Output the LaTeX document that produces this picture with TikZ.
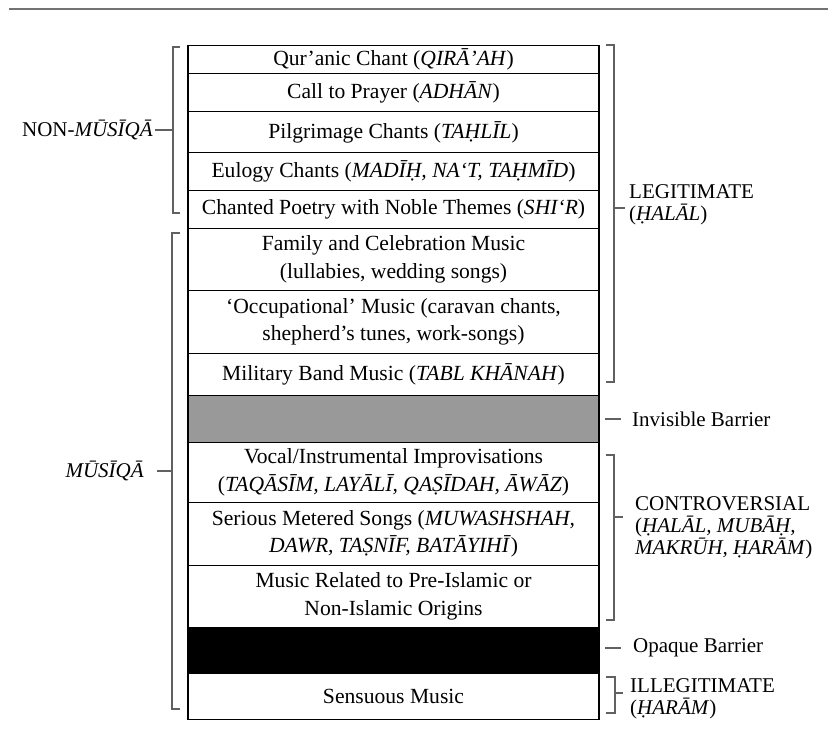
\documentclass[tikz,border=0pt]{standalone}
\usepackage{fontspec}
\setmainfont{Liberation Serif}
\begin{document}
\begin{tikzpicture}[x=1pt,y=-1pt,
  rowbox/.style={draw=black,line width=1.1pt,minimum width=411pt,inner sep=0pt,
    align=center,font=\fontsize{21.6}{27.5}\selectfont,anchor=north},
  lbl/.style={inner sep=0pt,align=left,font=\fontsize{21}{22}\selectfont},
  brk/.style={draw=black!62,line width=1.8pt},
  rule/.style={draw=black!55,line width=2.6pt}]
\useasboundingbox (0,0) rectangle (828,731);
\fill[white] (0,0) rectangle (828,731);
\draw[rule] (9,9) -- (828,9);
% rows
\node[rowbox,minimum height=28pt] (r1) at (393.5,45) {Qur’anic Chant (\textit{QIRĀ’AH})};
\node[rowbox,minimum height=38pt] (r2) at (393.5,73) {Call to Prayer (\textit{ADHĀN})};
\node[rowbox,minimum height=41pt] (r3) at (393.5,111) {Pilgrimage Chants (\textit{TAḤLĪL})};
\node[rowbox,minimum height=38pt] (r4) at (393.5,152) {Eulogy Chants (\textit{MADĪḤ, NA‘T, TAḤMĪD})};
\node[rowbox,minimum height=38pt] (r5) at (393.5,190) {Chanted Poetry with Noble Themes (\textit{SHI‘R})};
\node[rowbox,minimum height=62pt] (r6) at (393.5,228) {Family and Celebration Music\\(lullabies, wedding songs)};
\node[rowbox,minimum height=63pt] (r7) at (393.5,290) {‘Occupational’ Music (caravan chants,\\shepherd’s tunes, work-songs)};
\node[rowbox,minimum height=42pt] (r8) at (393.5,353) {Military Band Music (\textit{TABL KHĀNAH})};
\node[rowbox,minimum height=47pt,fill=black!40] (r9) at (393.5,395) {};
\node[rowbox,minimum height=60pt] (r10) at (393.5,442) {Vocal/Instrumental Improvisations\\(\textit{TAQĀSĪM, LAYĀLĪ, QAṢĪDAH, ĀWĀZ})};
\node[rowbox,minimum height=63pt] (r11) at (393.5,502) {Serious Metered Songs (\textit{MUWASHSHAH,}\\\textit{DAWR, TAṢNĪF, BATĀYIHĪ})};
\node[rowbox,minimum height=62pt] (r12) at (393.5,565) {Music Related to Pre-Islamic or\\Non-Islamic Origins};
\node[rowbox,minimum height=46pt,fill=black] (r13) at (393.5,627) {};
\node[rowbox,minimum height=46pt] (r14) at (393.5,673) {Sensuous Music};
% left brackets
\draw[brk] (180,47) -- (173,47) -- (173,213) -- (180,213);
\draw[brk] (155,130) -- (173,130);
\node[lbl,anchor=east] (nm) at (153,130) {NON-\textit{MŪSĪQĀ}};
\draw[brk] (180,233) -- (172,233) -- (172,709) -- (180,709);
\draw[brk] (157,471) -- (172,471);
\node[lbl,anchor=east] (m) at (144,471) {\textit{MŪSĪQĀ}};
% right brackets
\draw[brk] (606,45) -- (614,45) -- (614,382) -- (606,382);
\draw[brk] (614,208) -- (625,208);
\node[lbl,anchor=west] (leg) at (629,205) {LEGITIMATE\\(\textit{ḤALĀL})};
\draw[brk] (605,419) -- (621,419);
\node[lbl,anchor=west] (inv) at (632,419) {Invisible Barrier};
\draw[brk] (606,455) -- (614,455) -- (614,620) -- (606,620);
\draw[brk] (614,517) -- (623,517);
\node[lbl,anchor=west] (con) at (635,528) {CONTROVERSIAL\\(\textit{ḤALĀL, MUBĀḤ,}\\\textit{MAKRŪH, ḤARĀM})};
\draw[brk] (605,648) -- (621,648);
\node[lbl,anchor=west] (opq) at (633,648) {Opaque Barrier};
\draw[brk] (606,677) -- (615,677) -- (615,713) -- (606,713);
\draw[brk] (615,693) -- (623,693);
\node[lbl,anchor=west] (ill) at (630,699) {ILLEGITIMATE\\(\textit{ḤARĀM})};
\end{tikzpicture}
\end{document}
